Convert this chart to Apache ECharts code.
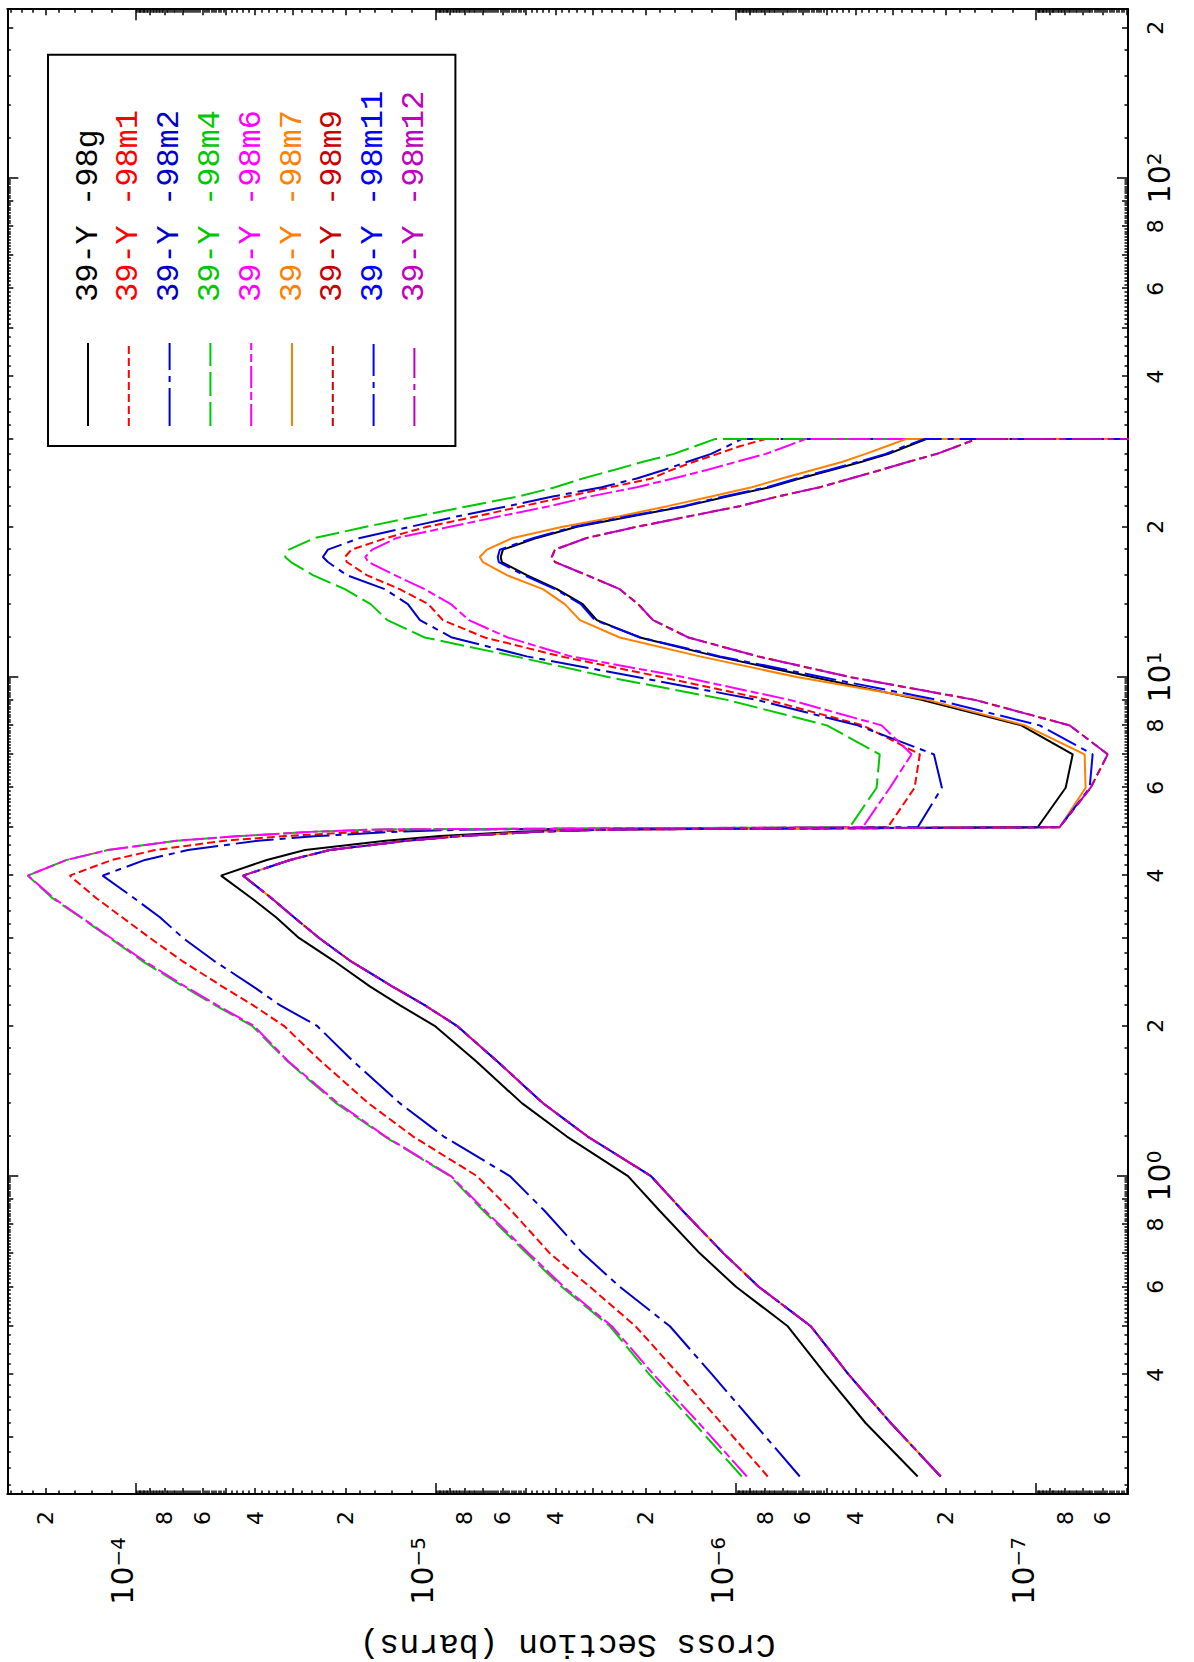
<!DOCTYPE html>
<html>
<head>
<meta charset="utf-8">
<script src="https://cdn.jsdelivr.net/npm/echarts@6.0.0/dist/echarts.min.js"></script>
<style>
html,body{margin:0;padding:0;width:1194px;height:1662px;overflow:hidden;background:#fff;}
#chart{position:absolute;left:0;top:0;width:1662px;height:1194px;transform-origin:0 0;transform:translate(0,1662px) rotate(-90deg);background:#fff;}
</style>
</head>
<body>
<div id="chart"></div>
<script>
// ---------- data (energy in MeV, cross section in barns) ----------
const ENERGY = [0.25,0.32,0.4,0.5,0.6,0.7,0.85,1.0,1.2,1.4,1.7,2.0,2.2,2.4,2.7,3.0,3.3,3.6,4.0,4.3,4.5,4.7,4.8,4.9,4.95,
  5,6,7,8,9,10,11,12,13,14,15,16,17,17.4,18,19,20,21,22,23,24,25,26,27,28,29,30,30];

const SERIES_NAMES = ['39-Y -98g','39-Y -98m1','39-Y -98m2','39-Y -98m4','39-Y -98m6','39-Y -98m7','39-Y -98m9','39-Y -98m11','39-Y -98m12'];

const Y_98G = [2.48e-7,3.70e-7,5.02e-7,6.72e-7,1.00e-6,1.32e-6,1.79e-6,2.29e-6,3.66e-6,5.17e-6,7.36e-6,1.01e-5,1.32e-5,1.66e-5,2.19e-5,2.86e-5,3.41e-5,4.10e-5,5.20e-5,3.66e-5,2.73e-5,1.47e-5,9.70e-6,5.25e-6,2.95e-6,
  9.88e-8,7.97e-8,7.55e-8,1.12e-7,2.41e-7,5.55e-7,1.16e-6,2.09e-6,2.91e-6,3.24e-6,3.95e-6,4.98e-6,6.03e-6,6.08e-6,5.98e-6,4.61e-6,3.39e-6,2.22e-6,1.47e-6,1.07e-6,7.72e-7,6.13e-7,4.80e-7,3.81e-7,3.10e-7,2.68e-7,2.31e-7,1e-12];

const Y_98M1 = [7.84e-7,1.12e-6,1.55e-6,2.16e-6,3.07e-6,4.17e-6,5.58e-6,7.30e-6,1.19e-5,1.68e-5,2.42e-5,3.21e-5,4.07e-5,5.16e-5,7.02e-5,8.97e-5,1.11e-4,1.35e-4,1.66e-4,1.20e-4,8.63e-5,5.05e-5,3.18e-5,1.72e-5,9.70e-6,
  3.12e-7,2.54e-7,2.44e-7,3.78e-7,7.84e-7,1.77e-6,3.84e-6,6.87e-6,9.48e-6,1.06e-5,1.32e-5,1.70e-5,1.98e-5,2.01e-5,1.91e-5,1.46e-5,1.07e-5,7.30e-6,5.13e-6,3.66e-6,2.63e-6,1.91e-6,1.64e-6,1.38e-6,1.15e-6,9.71e-7,7.96e-7,1e-12];

const Y_98M2 = [6.13e-7,8.72e-7,1.20e-6,1.66e-6,2.44e-6,3.24e-6,4.33e-6,5.67e-6,9.41e-6,1.32e-5,1.89e-5,2.49e-5,3.31e-5,4.07e-5,5.49e-5,6.96e-5,8.31e-5,1.01e-4,1.29e-4,9.32e-5,6.70e-5,3.92e-5,2.47e-5,1.34e-5,7.53e-6,
  2.48e-7,2.06e-7,2.19e-7,3.93e-7,8.53e-7,2.14e-6,4.98e-6,8.84e-6,1.13e-5,1.24e-5,1.48e-5,1.98e-5,2.29e-5,2.38e-5,2.29e-5,1.79e-5,1.22e-5,8.45e-6,5.76e-6,4.08e-6,2.80e-6,2.14e-6,1.74e-6,1.45e-6,1.21e-6,1.07e-6,9.56e-7,1e-12];

const Y_98M4 = [9.56e-7,1.38e-6,1.94e-6,2.63e-6,3.81e-6,4.98e-6,6.92e-6,8.98e-6,1.48e-5,2.15e-5,3.13e-5,4.10e-5,5.45e-5,6.96e-5,9.54e-5,1.22e-4,1.53e-4,1.89e-4,2.29e-4,1.70e-4,1.24e-4,7.29e-5,4.50e-5,2.53e-5,1.54e-5,
  4.18e-7,3.40e-7,3.32e-7,4.98e-7,1.07e-6,2.67e-6,5.45e-6,1.09e-5,1.45e-5,1.65e-5,2.01e-5,2.57e-5,3.04e-5,3.18e-5,3.09e-5,2.53e-5,1.71e-5,1.15e-5,7.82e-6,5.33e-6,4.01e-6,3.24e-6,2.55e-6,2.04e-6,1.61e-6,1.37e-6,1.17e-6,1e-12];

const Y_98M6 = [9.20e-7,1.33e-6,1.88e-6,2.59e-6,3.75e-6,4.90e-6,6.82e-6,8.91e-6,1.47e-5,2.12e-5,3.11e-5,4.04e-5,5.36e-5,6.86e-5,9.39e-5,1.21e-4,1.52e-4,1.87e-4,2.29e-4,1.70e-4,1.24e-4,7.29e-5,4.50e-5,2.53e-5,1.54e-5,
  3.78e-7,3.07e-7,2.60e-7,3.27e-7,6.62e-7,1.50e-6,3.55e-6,5.76e-6,7.76e-6,8.91e-6,1.09e-5,1.37e-5,1.68e-5,1.72e-5,1.63e-5,1.35e-5,8.98e-6,6.12e-6,4.17e-6,3.07e-6,2.14e-6,1.62e-6,1.25e-6,9.94e-7,7.96e-7,6.78e-7,5.85e-7,1e-12];

const Y_98M7 = [2.08e-7,3.05e-7,4.21e-7,5.63e-7,8.40e-7,1.10e-6,1.50e-6,1.92e-6,3.12e-6,4.40e-6,6.26e-6,8.51e-6,1.09e-5,1.40e-5,1.93e-5,2.45e-5,2.97e-5,3.52e-5,4.39e-5,3.06e-5,2.26e-5,1.24e-5,8.19e-6,4.50e-6,2.53e-6,
  8.35e-8,6.84e-8,6.89e-8,1.09e-7,2.30e-7,6.27e-7,1.32e-6,2.44e-6,3.31e-6,3.72e-6,4.40e-6,5.80e-6,6.97e-6,7.14e-6,6.76e-6,5.54e-6,3.78e-6,2.44e-6,1.69e-6,1.21e-6,8.86e-7,7.04e-7,5.55e-7,4.41e-7,3.70e-7,3.15e-7,2.70e-7,1e-12];

const Y_98M9 = [2.08e-7,3.05e-7,4.21e-7,5.63e-7,8.40e-7,1.10e-6,1.50e-6,1.92e-6,3.12e-6,4.40e-6,6.26e-6,8.51e-6,1.09e-5,1.40e-5,1.93e-5,2.45e-5,2.97e-5,3.52e-5,4.39e-5,3.06e-5,2.26e-5,1.24e-5,8.19e-6,4.50e-6,2.53e-6,
  8.35e-8,6.58e-8,5.77e-8,7.73e-8,1.60e-7,4.18e-7,8.46e-7,1.44e-6,1.89e-6,2.12e-6,2.44e-6,3.14e-6,4.01e-6,4.11e-6,4.01e-6,3.14e-6,2.14e-6,1.43e-6,9.71e-7,7.26e-7,5.26e-7,4.15e-7,3.29e-7,2.66e-7,2.14e-7,1.83e-7,1.58e-7,1e-12];

const Y_98M11 = [2.08e-7,3.05e-7,4.21e-7,5.63e-7,8.40e-7,1.10e-6,1.50e-6,1.92e-6,3.12e-6,4.40e-6,6.26e-6,8.51e-6,1.09e-5,1.40e-5,1.93e-5,2.45e-5,2.97e-5,3.52e-5,4.39e-5,3.06e-5,2.26e-5,1.24e-5,8.19e-6,4.50e-6,2.53e-6,
  8.35e-8,6.63e-8,6.48e-8,9.73e-8,2.14e-7,5.18e-7,1.13e-6,2.08e-6,2.95e-6,3.29e-6,4.01e-6,5.09e-6,6.17e-6,6.22e-6,6.12e-6,4.72e-6,3.47e-6,2.28e-6,1.50e-6,1.10e-6,7.89e-7,6.27e-7,4.91e-7,3.90e-7,3.17e-7,2.74e-7,2.35e-7,1e-12];

const Y_98M12 = [2.08e-7,3.05e-7,4.21e-7,5.63e-7,8.40e-7,1.10e-6,1.50e-6,1.92e-6,3.12e-6,4.40e-6,6.26e-6,8.51e-6,1.09e-5,1.40e-5,1.93e-5,2.45e-5,2.97e-5,3.52e-5,4.39e-5,3.06e-5,2.26e-5,1.24e-5,8.19e-6,4.50e-6,2.53e-6,
  8.35e-8,6.58e-8,5.77e-8,7.73e-8,1.60e-7,4.18e-7,8.46e-7,1.44e-6,1.89e-6,2.12e-6,2.44e-6,3.14e-6,4.01e-6,4.11e-6,4.01e-6,3.14e-6,2.14e-6,1.43e-6,9.71e-7,7.26e-7,5.26e-7,4.15e-7,3.29e-7,2.66e-7,2.14e-7,1.83e-7,1.58e-7,1e-12];

// tick labels
const E_LABELS = [0.4,0.6,0.8,1,2,4,6,8,10,20,40,60,80,100,200];
const S_MINOR_LABELS = [2e-4,8e-5,6e-5,4e-5,2e-5,8e-6,6e-6,4e-6,2e-6,8e-7,6e-7,4e-7,2e-7,8e-8,6e-8];
const S_MAJOR_LABELS = [1e-4,1e-5,1e-6,1e-7];

const E_RANGE = [0.2306, 217.8];
const S_RANGE = [4.94e-8, 2.68e-4];

// ---------- styles ----------
const COLORS = ['#000000','#ff0000','#0000c8','#00c800','#ff00ff','#ff8000','#c80000','#0000ff','#c000c0'];
const DASHES = ['solid',[8,4],[38,6,6,6],[24,6],[22,4,8,4],'solid',[8,4],[32,6,6,6],[30,6,6,6]];
const YDATA = [Y_98G,Y_98M1,Y_98M2,Y_98M4,Y_98M6,Y_98M7,Y_98M9,Y_98M11,Y_98M12];

// log tick positions (decorative tick marks)
function logTicks(range, kind) {
  const out = [];
  for (let n = -9; n <= 3; n++) {
    const p = Math.pow(10, n);
    let ms = [];
    if (kind === 'major') ms = [1];
    else if (kind === 'medium') ms = [2,3,4,5,6,7,8,9];
    else {
      for (let k = 12; k <= 48; k += 2) if (k % 10) ms.push(k / 10);
      for (let k = 51; k <= 99; k++) if (k % 10) ms.push(k / 10);
    }
    ms.forEach(m => {
      const v = Number((m * p).toPrecision(8));
      if (v >= range[0] && v <= range[1]) out.push(v);
    });
  }
  return out;
}

function mantissa(v) { return Math.round(v / Math.pow(10, Math.floor(Math.log10(v) + 1e-9))); }
function fmtE(v) {
  const e = Math.log10(v), r = Math.round(e);
  if (Math.abs(e - r) < 1e-6) return '{bx|10}{ex|' + r + '}';
  return String(mantissa(v));
}
function fmtSMinor(v) { return String(mantissa(v)); }
function fmtSMajor(v) {
  const r = Math.round(Math.log10(v));
  return '{by|10}{ey|' + (r < 0 ? '\u2212' + (-r) : r) + '}';
}

const NUMFONT = 'DejaVu Sans';
const MONO = "'Liberation Mono', 'Courier New', monospace";
const tickLine = { color: '#000', width: 1.5 };
const axisLine = { color: '#000', width: 2 };

function mkAxis(kind, pos, range, ticks, len, showLine, label, extra) {
  return Object.assign({
    type: 'log', logBase: 10, position: pos, gridIndex: 0,
    min: range[0], max: range[1],
    axisLine: { show: showLine, lineStyle: axisLine },
    axisTick: ticks ? { show: true, inside: true, length: len, customValues: ticks, lineStyle: tickLine } : { show: false },
    axisLabel: label || { show: false },
    splitLine: { show: false },
    minorTick: { show: false }, minorSplitLine: { show: false },
    axisPointer: { show: false }
  }, extra || {});
}

const xAxes = [
  mkAxis('x','bottom',E_RANGE,logTicks(E_RANGE,'major'),11,true,{
    show: true, customValues: E_LABELS, formatter: fmtE, margin: 16, hideOverlap: false,
    fontFamily: NUMFONT, fontSize: 22, lineHeight: 22, color: '#000',
    rich: {
      bx: { fontFamily: NUMFONT, fontSize: 30, lineHeight: 30, padding: [15,0,0,0], verticalAlign: 'bottom', color: '#000' },
      ex: { fontFamily: NUMFONT, fontSize: 20, lineHeight: 20, verticalAlign: 'top', color: '#000' }
    }
  }),
  mkAxis('x','bottom',E_RANGE,logTicks(E_RANGE,'medium'),6,false,null),
  mkAxis('x','bottom',E_RANGE,logTicks(E_RANGE,'small'),3.5,false,null),
  mkAxis('x','top',E_RANGE,logTicks(E_RANGE,'major'),11,true,null),
  mkAxis('x','top',E_RANGE,logTicks(E_RANGE,'medium'),6,false,null),
  mkAxis('x','top',E_RANGE,logTicks(E_RANGE,'small'),3.5,false,null)
];

const yAxes = [
  mkAxis('y','left',S_RANGE,logTicks(S_RANGE,'major'),11,true,{
    show: true, customValues: S_MINOR_LABELS, formatter: fmtSMinor, margin: 17, hideOverlap: false,
    fontFamily: NUMFONT, fontSize: 22, lineHeight: 16, color: '#000',
    align: 'right', verticalAlign: 'middle', padding: [0,0,14,0]
  }, {
    name: 'Cross Section (barns)', nameLocation: 'middle', nameRotate: 90, nameGap: 133,
    nameTextStyle: { fontFamily: MONO, fontSize: 33, color: '#000' }
  }),
  mkAxis('y','left',S_RANGE,logTicks(S_RANGE,'medium'),6,false,null),
  mkAxis('y','left',S_RANGE,logTicks(S_RANGE,'small'),3.5,false,null),
  mkAxis('y','left',S_RANGE,null,0,false,{
    show: true, customValues: S_MAJOR_LABELS, formatter: fmtSMajor, margin: 43, hideOverlap: false,
    fontFamily: NUMFONT, fontSize: 20, color: '#000',
    align: 'right', verticalAlign: 'middle', padding: [0,0,26,0],
    rich: {
      by: { fontFamily: NUMFONT, fontSize: 30, lineHeight: 30, padding: [10,0,0,0], verticalAlign: 'bottom', color: '#000' },
      ey: { fontFamily: NUMFONT, fontSize: 20, lineHeight: 20, verticalAlign: 'top', color: '#000' }
    }
  }),
  mkAxis('y','right',S_RANGE,logTicks(S_RANGE,'major'),11,true,null),
  mkAxis('y','right',S_RANGE,logTicks(S_RANGE,'medium'),6,false,null),
  mkAxis('y','right',S_RANGE,logTicks(S_RANGE,'small'),3.5,false,null)
];

const series = SERIES_NAMES.map((name, i) => ({
  name: name, type: 'line', xAxisIndex: 0, yAxisIndex: 0,
  data: ENERGY.map((e, j) => [e, YDATA[i][j]]),
  symbol: 'none', showSymbol: false, smooth: false, clip: true,
  lineStyle: { color: COLORS[i], width: 2, type: DASHES[i] },
  itemStyle: { color: COLORS[i] },
  emphasis: { disabled: true }, silent: true, animation: false
}));

const chart = echarts.init(document.getElementById('chart'), null, { renderer: 'svg', width: 1662, height: 1194 });
chart.setOption({
  animation: false,
  backgroundColor: '#fff',
  grid: { left: 168, right: 9.3, top: 7.3, bottom: 66, containLabel: false, outerBoundsMode: 'none' },
  legend: {
    orient: 'vertical', left: 1216, top: 48,
    padding: [23, 36, 24, 19],
    borderColor: '#000', borderWidth: 2, backgroundColor: '#fff',
    itemWidth: 83, itemHeight: 1, itemGap: 6.8,
    selectedMode: false,
    itemStyle: { opacity: 0 },
    textStyle: { fontFamily: MONO, fontSize: 32, lineHeight: 34, padding: [0,0,0,36] },
    data: SERIES_NAMES.map((n, i) => ({ name: n, textStyle: { color: COLORS[i], fontFamily: MONO, fontSize: 32, lineHeight: 34, padding: [0,0,0,36] } }))
  },
  tooltip: { show: false },
  xAxis: xAxes,
  yAxis: yAxes,
  series: series
});
</script>
</body>
</html>
